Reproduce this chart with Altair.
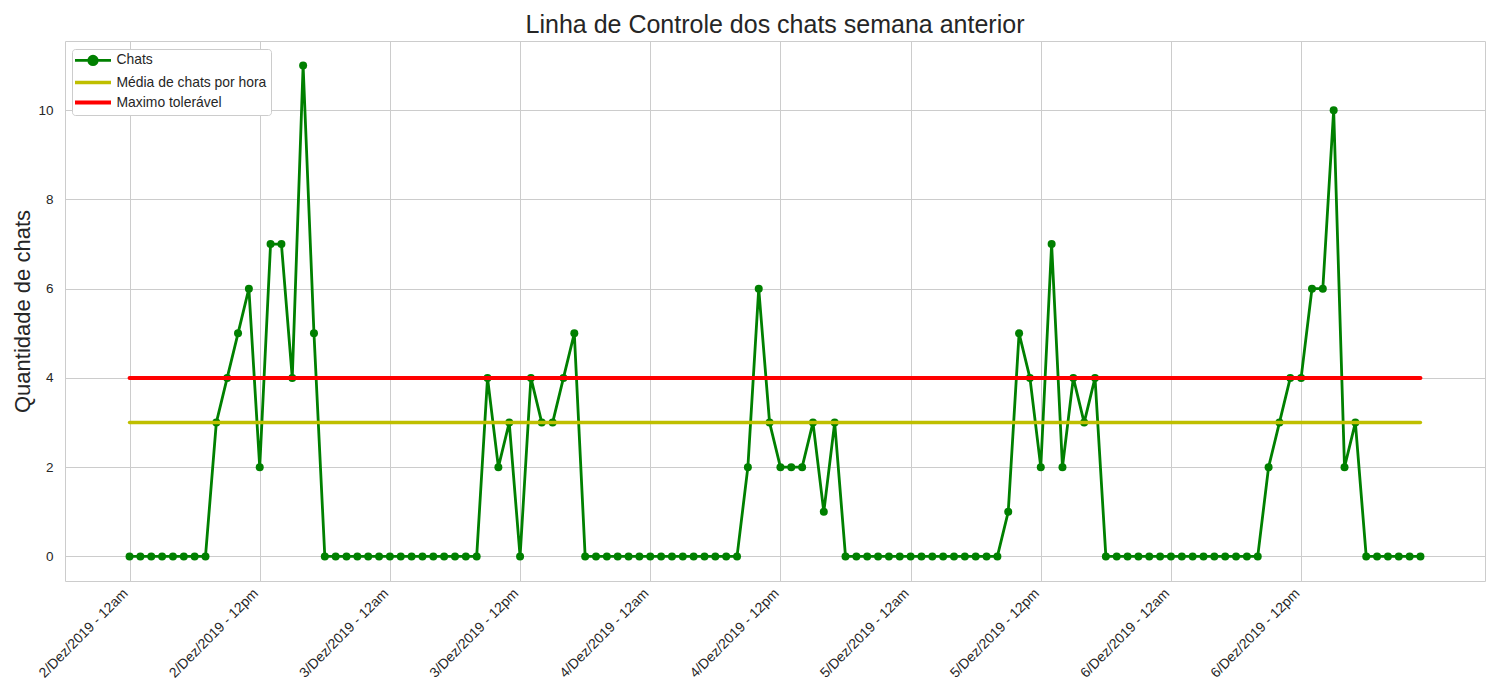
import altair as alt
import pandas as pd

# ---- data ----
horas = list(range(120))
chats = [
    0, 0, 0, 0, 0, 0, 0, 0, 3, 4, 5, 6, 2, 7, 7, 4, 11, 5, 0, 0, 0, 0, 0, 0,
    0, 0, 0, 0, 0, 0, 0, 0, 0, 4, 2, 3, 0, 4, 3, 3, 4, 5, 0, 0, 0, 0, 0, 0,
    0, 0, 0, 0, 0, 0, 0, 0, 0, 2, 6, 3, 2, 2, 2, 3, 1, 3, 0, 0, 0, 0, 0, 0,
    0, 0, 0, 0, 0, 0, 0, 0, 0, 1, 5, 4, 2, 7, 2, 4, 3, 4, 0, 0, 0, 0, 0, 0,
    0, 0, 0, 0, 0, 0, 0, 0, 0, 2, 3, 4, 4, 6, 6, 10, 2, 3, 0, 0, 0, 0, 0, 0,
]
media_chats = 3
maximo_toleravel = 4
tick_horas = [0, 12, 24, 36, 48, 60, 72, 84, 96, 108]
tick_labels = [
    "2/Dez/2019 - 12am", "2/Dez/2019 - 12pm",
    "3/Dez/2019 - 12am", "3/Dez/2019 - 12pm",
    "4/Dez/2019 - 12am", "4/Dez/2019 - 12pm",
    "5/Dez/2019 - 12am", "5/Dez/2019 - 12pm",
    "6/Dez/2019 - 12am", "6/Dez/2019 - 12pm",
]
series = ["Chats", "Média de chats por hora", "Maximo tolerável"]
colors = ["#008000", "#bfbf00", "#ff0000"]
widths = [2.8, 4, 5.5]

FONT = "Liberation Sans"

df_chats = pd.DataFrame({"hora": horas, "valor": chats, "serie": series[0]})
df_media = pd.DataFrame({"hora": [horas[0], horas[-1]],
                         "valor": [media_chats, media_chats], "serie": series[1]})
df_max = pd.DataFrame({"hora": [horas[0], horas[-1]],
                       "valor": [maximo_toleravel, maximo_toleravel], "serie": series[2]})
df_vazio = pd.DataFrame({"hora": pd.Series([], dtype=float),
                         "valor": pd.Series([], dtype=float),
                         "serie": pd.Series([], dtype=str)})

label_arr = "[" + ",".join("'" + t + "'" for t in tick_labels) + "]"

x_enc = alt.X(
    "hora:Q",
    scale=alt.Scale(domain=[-5.95, 124.95], nice=False, zero=False),
    axis=alt.Axis(
        values=tick_horas,
        labelExpr=label_arr + "[round(datum.value / 12)]",
        title=None,
        labelAngle=-45,
        labelAlign="right",
        labelBaseline="top",
        labelPadding=5,
        labelOffset=-9,
        labelFont=FONT,
        labelFontSize=14,
        labelColor="#262626",
        ticks=False,
        grid=True,
        gridColor="#cccccc",
        domain=False,
    ),
)
y_enc = alt.Y(
    "valor:Q",
    scale=alt.Scale(domain=[-0.55, 11.55], nice=False, zero=False),
    axis=alt.Axis(
        values=[0, 2, 4, 6, 8, 10],
        title="Quantidade de chats",
        titleFont=FONT,
        titleFontSize=22,
        titleFontWeight="normal",
        titleColor="#262626",
        titlePadding=3,
        labelFont=FONT,
        labelFontSize=13.5,
        labelColor="#262626",
        labelPadding=12,
        ticks=False,
        grid=True,
        gridColor="#cccccc",
        domain=False,
    ),
)

line_path = "M-3.6,0L3.6,0"
chats_path = "M-3.6,0L3.6,0M-0.84,0A0.84,0.84 0 1,0 0.84,0A0.84,0.84 0 1,0 -0.84,0"

leg = alt.Legend(
    title=None,
    orient="none",
    legendX=7,
    legendY=8,
    symbolSize=100,
    symbolOffset=9.5,
    labelFont=FONT,
    labelFontSize=13.9,
    labelColor="#262626",
    labelOffset=16.5,
    rowPadding=5,
    padding=4.5,
    fillColor="white",
    strokeColor="#cccccc",
    cornerRadius=3,
    symbolOpacity=1,
)

color_enc = alt.Color("serie:N", scale=alt.Scale(domain=series, range=colors), legend=leg)
stroke_enc = alt.Stroke("serie:N", scale=alt.Scale(domain=series, range=colors), legend=leg)
shape_enc = alt.Shape("serie:N", scale=alt.Scale(domain=series, range=[chats_path, line_path, line_path]), legend=leg)
sw_enc = alt.StrokeWidth("serie:N", scale=alt.Scale(domain=series, range=widths), legend=leg)

# empty layer that only carries the legend symbols
legenda = alt.Chart(df_vazio).mark_point(filled=True, opacity=1).encode(
    x=x_enc, y=y_enc, color=color_enc, stroke=stroke_enc, shape=shape_enc, strokeWidth=sw_enc)

pontos_chats = alt.Chart(df_chats).mark_circle(size=64, opacity=1).encode(
    x="hora:Q", y="valor:Q", color=color_enc)
linha_chats = alt.Chart(df_chats).mark_line(strokeCap="round", strokeJoin="round").encode(
    x="hora:Q", y="valor:Q", color=color_enc, strokeWidth=sw_enc)
linha_media = alt.Chart(df_media).mark_line(strokeCap="round").encode(
    x="hora:Q", y="valor:Q", color=color_enc, strokeWidth=sw_enc)
linha_max = alt.Chart(df_max).mark_line(strokeCap="round").encode(
    x="hora:Q", y="valor:Q", color=color_enc, strokeWidth=sw_enc)

chart = (
    alt.layer(legenda, pontos_chats, linha_chats, linha_media, linha_max)
    .properties(
        width=1420,
        height=540,
        title=alt.TitleParams(
            "Linha de Controle dos chats semana anterior",
            font=FONT, fontSize=25, fontWeight="normal", color="#262626",
            anchor="middle", offset=3,
        ),
        autosize=alt.AutoSizeParams(type="none"),
        padding={"left": 57, "top": 33, "right": 7, "bottom": 110},
        background="white",
    )
    .configure_view(stroke="#cccccc", strokeWidth=1)
)

chart.save("out.html", embed_options={"renderer": "svg", "actions": False})
